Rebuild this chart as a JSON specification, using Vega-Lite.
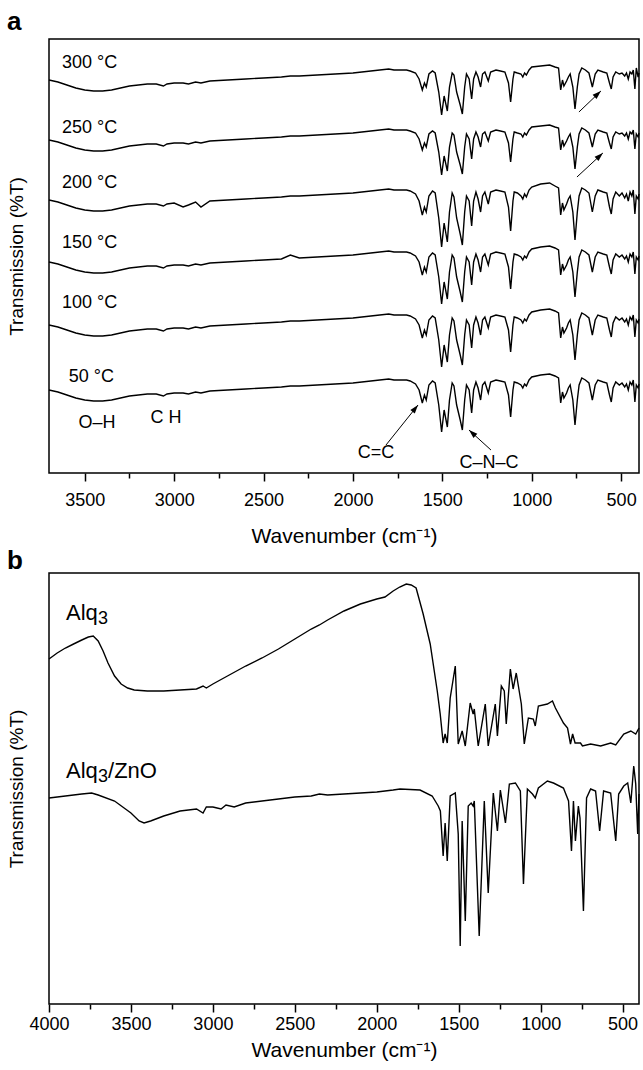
{
"$schema": "https://vega.github.io/schema/vega-lite/v6.json",
"background": "white",
"padding": {"left": 6, "top": 8, "right": 3, "bottom": 4},
"config": {
  "font": "Liberation Sans",
  "view": {"stroke": "black", "strokeWidth": 1.5},
  "title": {"fontSize": 26, "fontWeight": "bold", "anchor": "start", "frame": "bounds", "color": "black"}
},
"spacing": 0,
"datasets": {
  "a": [
{"w":3700,"t300":393,"t250":333,"t200":273,"t150":211,"t100":148,"t50":83},
{"w":3650,"t300":391,"t250":331,"t200":271,"t150":209,"t100":146,"t50":81},
{"w":3600,"t300":388,"t250":328,"t200":268,"t150":206,"t100":143,"t50":78},
{"w":3550,"t300":385,"t250":325,"t200":265,"t150":203,"t100":140,"t50":75},
{"w":3500,"t300":383,"t250":323,"t200":263,"t150":201,"t100":138,"t50":73},
{"w":3450,"t300":382,"t250":322,"t200":262,"t150":200,"t100":137,"t50":72},
{"w":3400,"t300":382,"t250":322,"t200":262,"t150":200,"t100":137,"t50":72},
{"w":3350,"t300":383,"t250":323,"t200":263,"t150":201,"t100":138,"t50":73},
{"w":3300,"t300":385,"t250":325,"t200":265,"t150":203,"t100":140,"t50":75},
{"w":3250,"t300":387,"t250":327,"t200":267,"t150":205,"t100":142,"t50":77},
{"w":3200,"t300":388,"t250":328,"t200":268,"t150":206,"t100":143,"t50":78},
{"w":3150,"t300":389,"t250":329,"t200":269,"t150":207,"t100":144,"t50":79},
{"w":3100,"t300":389,"t250":329,"t200":269,"t150":207,"t100":144,"t50":79},
{"w":3060,"t300":387,"t250":327,"t200":267,"t150":205,"t100":142,"t50":77},
{"w":3040,"t300":389,"t250":329,"t200":269,"t150":207,"t100":144,"t50":79},
{"w":3000,"t300":390,"t250":330,"t200":270,"t150":208,"t100":145,"t50":80},
{"w":2950,"t300":390,"t250":330,"t200":266,"t150":208,"t100":145,"t50":80},
{"w":2920,"t300":389,"t250":329,"t200":268,"t150":207,"t100":144,"t50":79},
{"w":2880,"t300":391,"t250":331,"t200":271,"t150":209,"t100":146,"t50":81},
{"w":2850,"t300":390,"t250":330,"t200":266,"t150":208,"t100":145,"t50":80},
{"w":2800,"t300":392,"t250":332,"t200":272,"t150":210,"t100":147,"t50":82},
{"w":2700,"t300":393,"t250":333,"t200":273,"t150":211,"t100":148,"t50":83},
{"w":2600,"t300":394,"t250":334,"t200":274,"t150":212,"t100":149,"t50":84},
{"w":2500,"t300":395,"t250":335,"t200":275,"t150":213,"t100":150,"t50":85},
{"w":2400,"t300":396,"t250":336,"t200":276,"t150":214,"t100":151,"t50":86},
{"w":2350,"t300":397,"t250":337,"t200":277,"t150":218,"t100":152,"t50":87},
{"w":2300,"t300":397,"t250":337,"t200":277,"t150":215,"t100":152,"t50":87},
{"w":2200,"t300":398,"t250":338,"t200":278,"t150":216,"t100":153,"t50":88},
{"w":2100,"t300":399,"t250":339,"t200":279,"t150":217,"t100":154,"t50":89},
{"w":2000,"t300":400,"t250":340,"t200":280,"t150":218,"t100":155,"t50":90},
{"w":1950,"t300":401,"t250":341,"t200":281,"t150":219,"t100":156,"t50":91},
{"w":1900,"t300":402,"t250":342,"t200":282,"t150":220,"t100":157,"t50":92},
{"w":1850,"t300":403,"t250":343,"t200":283,"t150":221,"t100":158,"t50":93},
{"w":1800,"t300":404,"t250":344,"t200":284,"t150":222,"t100":159,"t50":94},
{"w":1770,"t300":403,"t250":343,"t200":283,"t150":221,"t100":158,"t50":93},
{"w":1743,"t300":403,"t250":343,"t200":283,"t150":221,"t100":158,"t50":93},
{"w":1700,"t300":403,"t250":343,"t200":283,"t150":221,"t100":158,"t50":93},
{"w":1680,"t300":402,"t250":342,"t200":282,"t150":220,"t100":157,"t50":92},
{"w":1650,"t300":400,"t250":340,"t200":279,"t150":217,"t100":154,"t50":89},
{"w":1630,"t300":394,"t250":334,"t200":272,"t150":211,"t100":148,"t50":83},
{"w":1612,"t300":383,"t250":323,"t200":258,"t150":198,"t100":135,"t50":70},
{"w":1600,"t300":390,"t250":330,"t200":266,"t150":206,"t100":143,"t50":78},
{"w":1590,"t300":386,"t250":326,"t200":261,"t150":201,"t100":138,"t50":73},
{"w":1575,"t300":399,"t250":339,"t200":277,"t150":216,"t100":153,"t50":88},
{"w":1555,"t300":402,"t250":342,"t200":282,"t150":220,"t100":157,"t50":92},
{"w":1540,"t300":400,"t250":340,"t200":280,"t150":218,"t100":155,"t50":90},
{"w":1520,"t300":381,"t250":321,"t200":255,"t150":196,"t100":133,"t50":68},
{"w":1504,"t300":358,"t250":298,"t200":226,"t150":169,"t100":106,"t50":41},
{"w":1490,"t300":377,"t250":317,"t200":250,"t150":191,"t100":128,"t50":63},
{"w":1472,"t300":362,"t250":302,"t200":231,"t150":174,"t100":111,"t50":46},
{"w":1460,"t300":386,"t250":326,"t200":261,"t150":201,"t100":138,"t50":73},
{"w":1445,"t300":400,"t250":340,"t200":280,"t150":218,"t100":155,"t50":90},
{"w":1435,"t300":398,"t250":338,"t200":276,"t150":215,"t100":152,"t50":87},
{"w":1420,"t300":381,"t250":321,"t200":255,"t150":196,"t100":133,"t50":68},
{"w":1400,"t300":368,"t250":308,"t200":239,"t150":181,"t100":118,"t50":53},
{"w":1388,"t300":359,"t250":299,"t200":228,"t150":171,"t100":108,"t50":43},
{"w":1375,"t300":386,"t250":326,"t200":261,"t150":201,"t100":138,"t50":73},
{"w":1365,"t300":399,"t250":339,"t200":277,"t150":216,"t100":153,"t50":88},
{"w":1350,"t300":394,"t250":334,"t200":272,"t150":211,"t100":148,"t50":83},
{"w":1336,"t300":374,"t250":314,"t200":247,"t150":188,"t100":125,"t50":60},
{"w":1325,"t300":394,"t250":334,"t200":272,"t150":211,"t100":148,"t50":83},
{"w":1312,"t300":401,"t250":341,"t200":281,"t150":219,"t100":156,"t50":91},
{"w":1300,"t300":396,"t250":336,"t200":274,"t150":213,"t100":150,"t50":85},
{"w":1286,"t300":386,"t250":326,"t200":261,"t150":201,"t100":138,"t50":73},
{"w":1275,"t300":399,"t250":339,"t200":277,"t150":216,"t100":153,"t50":88},
{"w":1262,"t300":401,"t250":341,"t200":281,"t150":219,"t100":156,"t50":91},
{"w":1243,"t300":392,"t250":332,"t200":269,"t150":208,"t100":145,"t50":80},
{"w":1230,"t300":401,"t250":341,"t200":281,"t150":219,"t100":156,"t50":91},
{"w":1200,"t300":403,"t250":343,"t200":283,"t150":221,"t100":158,"t50":93},
{"w":1175,"t300":402,"t250":342,"t200":282,"t150":220,"t100":157,"t50":92},
{"w":1150,"t300":401,"t250":341,"t200":281,"t150":219,"t100":156,"t50":91},
{"w":1130,"t300":390,"t250":330,"t200":266,"t150":206,"t100":143,"t50":78},
{"w":1118,"t300":371,"t250":311,"t200":242,"t150":184,"t100":121,"t50":56},
{"w":1105,"t300":394,"t250":334,"t200":272,"t150":211,"t100":148,"t50":83},
{"w":1098,"t300":401,"t250":341,"t200":281,"t150":219,"t100":156,"t50":91},
{"w":1080,"t300":400,"t250":340,"t200":280,"t150":218,"t100":155,"t50":90},
{"w":1060,"t300":399,"t250":339,"t200":277,"t150":216,"t100":153,"t50":88},
{"w":1050,"t300":396,"t250":336,"t200":274,"t150":213,"t100":150,"t50":85},
{"w":1040,"t300":400,"t250":340,"t200":279,"t150":217,"t100":154,"t50":89},
{"w":1030,"t300":398,"t250":338,"t200":276,"t150":215,"t100":152,"t50":87},
{"w":1015,"t300":403,"t250":343,"t200":283,"t150":221,"t100":158,"t50":93},
{"w":1000,"t300":406,"t250":346,"t200":286,"t150":224,"t100":161,"t50":96},
{"w":950,"t300":407,"t250":347,"t200":289,"t150":226,"t100":163,"t50":98},
{"w":900,"t300":408,"t250":348,"t200":290,"t150":227,"t100":164,"t50":99},
{"w":870,"t300":406,"t250":346,"t200":287,"t150":225,"t100":162,"t50":97},
{"w":850,"t300":405,"t250":345,"t200":285,"t150":223,"t100":160,"t50":95},
{"w":838,"t300":383,"t250":323,"t200":258,"t150":198,"t100":135,"t50":70},
{"w":828,"t300":393,"t250":333,"t200":270,"t150":209,"t100":146,"t50":81},
{"w":820,"t300":387,"t250":327,"t200":263,"t150":203,"t100":140,"t50":75},
{"w":805,"t300":392,"t250":332,"t200":269,"t150":208,"t100":145,"t50":80},
{"w":795,"t300":396,"t250":336,"t200":274,"t150":213,"t100":150,"t50":85},
{"w":785,"t300":399,"t250":339,"t200":277,"t150":216,"t100":153,"t50":88},
{"w":770,"t300":386,"t250":326,"t200":261,"t150":201,"t100":138,"t50":73},
{"w":758,"t300":364,"t250":304,"t200":233,"t150":176,"t100":113,"t50":48},
{"w":745,"t300":386,"t250":326,"t200":261,"t150":201,"t100":138,"t50":73},
{"w":735,"t300":399,"t250":339,"t200":277,"t150":216,"t100":153,"t50":88},
{"w":720,"t300":405,"t250":345,"t200":285,"t150":223,"t100":160,"t50":95},
{"w":700,"t300":403,"t250":343,"t200":283,"t150":221,"t100":158,"t50":93},
{"w":680,"t300":400,"t250":340,"t200":280,"t150":218,"t100":155,"t50":90},
{"w":661,"t300":386,"t250":326,"t200":261,"t150":201,"t100":138,"t50":73},
{"w":645,"t300":399,"t250":339,"t200":277,"t150":216,"t100":153,"t50":88},
{"w":630,"t300":403,"t250":343,"t200":283,"t150":221,"t100":158,"t50":93},
{"w":600,"t300":401,"t250":341,"t200":281,"t150":219,"t100":156,"t50":91},
{"w":580,"t300":400,"t250":340,"t200":280,"t150":218,"t100":155,"t50":90},
{"w":565,"t300":390,"t250":330,"t200":266,"t150":206,"t100":143,"t50":78},
{"w":555,"t300":384,"t250":324,"t200":259,"t150":199,"t100":136,"t50":71},
{"w":545,"t300":396,"t250":336,"t200":274,"t150":213,"t100":150,"t50":85},
{"w":530,"t300":401,"t250":341,"t200":281,"t150":219,"t100":156,"t50":91},
{"w":510,"t300":399,"t250":339,"t200":277,"t150":216,"t100":153,"t50":88},
{"w":495,"t300":400,"t250":340,"t200":280,"t150":218,"t100":155,"t50":90},
{"w":480,"t300":397,"t250":337,"t200":275,"t150":214,"t100":151,"t50":86},
{"w":470,"t300":400,"t250":340,"t200":279,"t150":217,"t100":154,"t50":89},
{"w":460,"t300":394,"t250":334,"t200":272,"t150":211,"t100":148,"t50":83},
{"w":450,"t300":401,"t250":341,"t200":281,"t150":219,"t100":156,"t50":91},
{"w":440,"t300":399,"t250":339,"t200":277,"t150":216,"t100":153,"t50":88},
{"w":432,"t300":403,"t250":343,"t200":283,"t150":221,"t100":158,"t50":93},
{"w":423,"t300":384,"t250":324,"t200":259,"t150":199,"t100":136,"t50":71},
{"w":415,"t300":405,"t250":339,"t200":277,"t150":216,"t100":153,"t50":88},
{"w":405,"t300":396,"t250":336,"t200":274,"t150":213,"t100":150,"t50":85},
{"w":400,"t300":400,"t250":340,"t200":279,"t150":217,"t100":154,"t50":89}
  ],
  "alab": [
    {"w":3627,"h":410,"text":"300 °C"},
    {"w":3627,"h":345,"text":"250 °C"},
    {"w":3627,"h":290,"text":"200 °C"},
    {"w":3627,"h":230,"text":"150 °C"},
    {"w":3627,"h":170,"text":"100 °C"},
    {"w":3590,"h":96,"text":"50 °C"}
  ],
  "band": [
    {"w":3432,"h":50,"text":"O–H"},
    {"w":3046,"h":55,"text":"C  H"},
    {"w":1871,"h":20,"text":"C=C"},
    {"w":1239,"h":10,"text":"C–N–C"}
  ],
  "arrows": [
    {"id":"cc","w":1815,"h":28,"w2":1636,"h2":68},
    {"id":"cnc","w":1228,"h":23,"w2":1351,"h2":43},
    {"id":"t300","w":736,"h":361,"w2":613,"h2":382},
    {"id":"t250","w":747,"h":296,"w2":602,"h2":320}
  ],
  "heads": [
    {"id":"cc","w":1636,"h":68},
    {"id":"cnc","w":1351,"h":43},
    {"id":"t300","w":613,"h":382},
    {"id":"t250","w":602,"h":320}
  ],
  "alq": [
{"w":4000,"T":345},{"w":3950,"T":351},{"w":3900,"T":356},{"w":3850,"T":360},{"w":3800,"T":364},
{"w":3760,"T":367},{"w":3730,"T":368},{"w":3700,"T":363},{"w":3670,"T":353},{"w":3640,"T":341},
{"w":3600,"T":328},{"w":3560,"T":320},{"w":3520,"T":316},{"w":3480,"T":314},{"w":3400,"T":313},
{"w":3300,"T":313},{"w":3200,"T":314},{"w":3100,"T":315},{"w":3060,"T":318},{"w":3040,"T":316},
{"w":3000,"T":320},{"w":2900,"T":329},{"w":2800,"T":338},{"w":2700,"T":346},{"w":2600,"T":355},
{"w":2500,"T":365},{"w":2400,"T":375},{"w":2350,"T":379},{"w":2300,"T":384},{"w":2200,"T":393},
{"w":2100,"T":400},{"w":2000,"T":405},{"w":1950,"T":407},{"w":1900,"T":413},{"w":1860,"T":417},
{"w":1820,"T":420},{"w":1790,"T":419},{"w":1760,"T":416},{"w":1717,"T":390},{"w":1674,"T":360},
{"w":1631,"T":313},{"w":1613,"T":290},{"w":1595,"T":261},{"w":1583,"T":270},{"w":1570,"T":261},
{"w":1552,"T":306},{"w":1521,"T":338},{"w":1503,"T":260},{"w":1479,"T":273},{"w":1460,"T":258},
{"w":1430,"T":301},{"w":1412,"T":290},{"w":1405,"T":295},{"w":1381,"T":258},{"w":1338,"T":300},
{"w":1320,"T":258},{"w":1277,"T":300},{"w":1264,"T":268},{"w":1240,"T":318},{"w":1222,"T":313},
{"w":1210,"T":280},{"w":1185,"T":335},{"w":1168,"T":315},{"w":1149,"T":331},{"w":1118,"T":300},
{"w":1100,"T":260},{"w":1075,"T":286},{"w":1045,"T":285},{"w":1033,"T":278},{"w":1014,"T":298},
{"w":959,"T":300},{"w":928,"T":303},{"w":910,"T":296},{"w":861,"T":281},{"w":836,"T":276},
{"w":818,"T":260},{"w":805,"T":270},{"w":790,"T":261},{"w":757,"T":261},{"w":745,"T":258},
{"w":695,"T":260},{"w":634,"T":258},{"w":573,"T":261},{"w":542,"T":259},{"w":493,"T":270},
{"w":450,"T":273},{"w":420,"T":270},{"w":400,"T":276}
  ],
  "zno": [
{"w":4000,"T":206},{"w":3900,"T":208},{"w":3800,"T":210},{"w":3740,"T":211},{"w":3700,"T":209},
{"w":3600,"T":203},{"w":3500,"T":191},{"w":3450,"T":183},{"w":3420,"T":181},{"w":3380,"T":183},
{"w":3300,"T":188},{"w":3200,"T":193},{"w":3100,"T":195},{"w":3060,"T":191},{"w":3040,"T":197},
{"w":3000,"T":197},{"w":2950,"T":195},{"w":2920,"T":199},{"w":2870,"T":197},{"w":2800,"T":201},
{"w":2700,"T":203},{"w":2600,"T":205},{"w":2500,"T":207},{"w":2400,"T":208},{"w":2350,"T":210},
{"w":2300,"T":209},{"w":2200,"T":210},{"w":2100,"T":211},{"w":2000,"T":212},{"w":1900,"T":214},
{"w":1858,"T":215},{"w":1736,"T":214},{"w":1662,"T":208},{"w":1625,"T":198},{"w":1612,"T":193},
{"w":1595,"T":148},{"w":1583,"T":181},{"w":1570,"T":143},{"w":1552,"T":208},{"w":1521,"T":211},
{"w":1503,"T":170},{"w":1491,"T":58},{"w":1479,"T":183},{"w":1460,"T":83},{"w":1442,"T":198},
{"w":1424,"T":201},{"w":1412,"T":198},{"w":1405,"T":203},{"w":1375,"T":68},{"w":1344,"T":203},
{"w":1320,"T":111},{"w":1289,"T":211},{"w":1264,"T":173},{"w":1246,"T":214},{"w":1215,"T":181},
{"w":1191,"T":220},{"w":1154,"T":221},{"w":1124,"T":213},{"w":1105,"T":120},{"w":1081,"T":215},
{"w":1050,"T":210},{"w":1033,"T":206},{"w":1014,"T":216},{"w":959,"T":223},{"w":922,"T":221},
{"w":861,"T":216},{"w":830,"T":203},{"w":812,"T":153},{"w":800,"T":203},{"w":788,"T":163},
{"w":770,"T":198},{"w":760,"T":186},{"w":739,"T":93},{"w":720,"T":206},{"w":695,"T":215},
{"w":665,"T":213},{"w":640,"T":173},{"w":616,"T":213},{"w":573,"T":211},{"w":542,"T":163},
{"w":524,"T":210},{"w":493,"T":218},{"w":469,"T":221},{"w":450,"T":201},{"w":432,"T":238},
{"w":420,"T":220},{"w":408,"T":170},{"w":400,"T":210}
  ],
  "blab": [
    {"w":3896,"T":391,"text":"Alq","p":1},
    {"w":3896,"T":391,"text":"3","p":2},
    {"w":3896,"T":233,"text":"Alq","p":1},
    {"w":3896,"T":233,"text":"3","p":2},
    {"w":3896,"T":233,"text":"/ZnO","p":3}
  ]
},
"vconcat": [
  {
    "title": {"text": "a", "offset": 4},
    "width": 590,
    "height": 434,
    "encoding": {
      "x": {"field": "w", "type": "quantitative",
            "scale": {"domain": [400, 3700], "reverse": true, "nice": false, "zero": false},
            "axis": {"values": [3500,3250,3000,2750,2500,2250,2000,1750,1500,1250,1000,750,500],
                     "format": "d",
                     "labelExpr": "datum.value % 500 === 0 ? datum.label : ''",
                     "tickSize": {"condition": {"test": "datum.value % 500 !== 0", "value": 5}, "value": 8},
                     "tickColor": "black", "tickWidth": 1.5,
                     "labelFontSize": 18, "labelColor": "black", "labelPadding": 10,
                     "labelOverlap": false, "labelFlush": false,
                     "domain": false, "grid": false,
                     "title": "Wavenumber (cm⁻¹)", "titleFontSize": 21, "titleFontWeight": "normal",
                     "titleColor": "black", "titlePadding": 16}},
      "y": {"field": "h", "type": "quantitative",
            "scale": {"domain": [0, 434], "nice": false, "zero": false},
            "axis": {"title": "Transmission (%T)", "labels": false, "ticks": false, "domain": false, "grid": false,
                     "titleFontSize": 19, "titleFontWeight": "normal", "titleColor": "black", "titlePadding": 23}}
    },
    "layer": [
      {
        "data": {"name": "a"},
        "transform": [{"fold": ["t300","t250","t200","t150","t100","t50"], "as": ["series","h"]}],
        "mark": {"type": "line", "color": "black", "strokeWidth": 1.4},
        "encoding": {"detail": {"field": "series"}}
      },
      {
        "data": {"name": "alab"},
        "mark": {"type": "text", "align": "left", "baseline": "middle", "fontSize": 18, "color": "black"},
        "encoding": {"text": {"field": "text"}}
      },
      {
        "data": {"name": "band"},
        "mark": {"type": "text", "align": "center", "baseline": "middle", "fontSize": 18, "color": "black"},
        "encoding": {"text": {"field": "text"}}
      },
      {
        "data": {"name": "arrows"},
        "mark": {"type": "rule", "color": "black", "strokeWidth": 1},
        "encoding": {"x2": {"field": "w2"}, "y2": {"field": "h2"}}
      },
      {
        "data": {"name": "heads"},
        "transform": [{"filter": "datum.id === 'cc'"}],
        "mark": {"type": "point", "shape": "M0,0L-0.33,1L0.33,1Z", "filled": true, "color": "black", "opacity": 1, "size": 300, "angle": 39, "strokeWidth": 0},
        "encoding": {}
      },
      {
        "data": {"name": "heads"},
        "transform": [{"filter": "datum.id === 'cnc'"}],
        "mark": {"type": "point", "shape": "M0,0L-0.33,1L0.33,1Z", "filled": true, "color": "black", "opacity": 1, "size": 300, "angle": 312, "strokeWidth": 0},
        "encoding": {}
      },
      {
        "data": {"name": "heads"},
        "transform": [{"filter": "datum.id === 't300' || datum.id === 't250'"}],
        "mark": {"type": "point", "shape": "M0,0L-0.33,1L0.33,1Z", "filled": true, "color": "black", "opacity": 1, "size": 300, "angle": 47, "strokeWidth": 0},
        "encoding": {}
      }
    ]
  },
  {
    "title": {"text": "b", "offset": -1},
    "width": 590,
    "height": 431,
    "encoding": {
      "x": {"field": "w", "type": "quantitative",
            "scale": {"domain": [400, 4000], "reverse": true, "nice": false, "zero": false},
            "axis": {"values": [4000,3750,3500,3250,3000,2750,2500,2250,2000,1750,1500,1250,1000,750,500],
                     "format": "d",
                     "labelExpr": "datum.value % 500 === 0 ? datum.label : ''",
                     "tickSize": {"condition": {"test": "datum.value % 500 !== 0", "value": 5}, "value": 8},
                     "tickColor": "black", "tickWidth": 1.5,
                     "labelFontSize": 18, "labelColor": "black", "labelPadding": 3,
                     "labelOverlap": false, "labelFlush": false,
                     "domain": false, "grid": false,
                     "title": "Wavenumber (cm⁻¹)", "titleFontSize": 21, "titleFontWeight": "normal",
                     "titleColor": "black", "titlePadding": 6}},
      "y": {"field": "T", "type": "quantitative",
            "scale": {"domain": [0, 431], "nice": false, "zero": false},
            "axis": {"title": "Transmission (%T)", "labels": false, "ticks": false, "domain": false, "grid": false,
                     "titleFontSize": 19, "titleFontWeight": "normal", "titleColor": "black", "titlePadding": 23}}
    },
    "layer": [
      {
        "data": {"name": "alq"},
        "mark": {"type": "line", "color": "black", "strokeWidth": 1.4}
      },
      {
        "data": {"name": "zno"},
        "mark": {"type": "line", "color": "black", "strokeWidth": 1.4}
      },
      {
        "data": {"name": "blab"},
        "transform": [{"filter": "datum.p === 1"}],
        "mark": {"type": "text", "align": "left", "baseline": "middle", "fontSize": 22, "color": "black"},
        "encoding": {"text": {"field": "text"}}
      },
      {
        "data": {"name": "blab"},
        "transform": [{"filter": "datum.p === 2"}],
        "mark": {"type": "text", "align": "left", "baseline": "middle", "fontSize": 18, "color": "black", "dx": 32, "dy": 6},
        "encoding": {"text": {"field": "text"}}
      },
      {
        "data": {"name": "blab"},
        "transform": [{"filter": "datum.p === 3"}],
        "mark": {"type": "text", "align": "left", "baseline": "middle", "fontSize": 22, "color": "black", "dx": 42},
        "encoding": {"text": {"field": "text"}}
      }
    ]
  }
]
}
